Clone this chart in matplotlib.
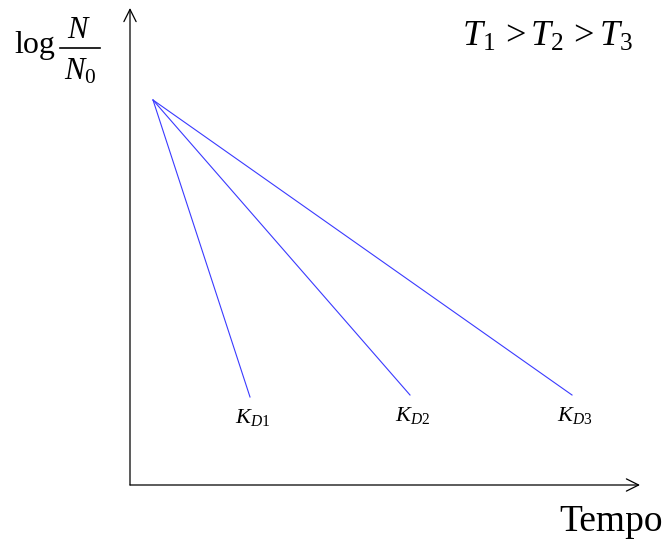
import matplotlib
matplotlib.use('Agg')
import matplotlib.pyplot as plt

plt.rcParams['font.family'] = 'Liberation Serif'
plt.rcParams['mathtext.fontset'] = 'custom'
plt.rcParams['mathtext.rm'] = 'Liberation Serif'
plt.rcParams['mathtext.it'] = 'Liberation Serif:italic'

# common start point (tempo, log N/N0) and end points of each line
t_start = 23
logn_start = 385
t_end = [120, 280, 442]
logn_end = [88, 90, 90]
labels = [r'$K_{D1}$', r'$K_{D2}$', r'$K_{D3}$']

fig = plt.figure(figsize=(6.67, 5.39), dpi=100)

# main axes (corner of arrows at pixel 130,485)
ax = fig.add_axes([130/667, 54/539, 510/667, 477/539])
ax.set_xlim(0, 510)
ax.set_ylim(0, 477)
ax.axis('off')

for te, ye, lab in zip(t_end, logn_end, labels):
    ax.plot([t_start, te], [logn_start, ye], color='#3a3aff', lw=0.8)
    ax.text(te + 3, ye - 20, lab, fontsize=16, ha='center', va='center')

# axis arrows
ax.annotate('', xy=(0, 1), xytext=(0, 0), xycoords='axes fraction',
            arrowprops=dict(arrowstyle='->', lw=0.9, color='k',
                            mutation_scale=22, shrinkA=0, shrinkB=0))
ax.annotate('', xy=(1, 0), xytext=(0, 0), xycoords='axes fraction',
            arrowprops=dict(arrowstyle='->', lw=0.9, color='k',
                            mutation_scale=22, shrinkA=0, shrinkB=0))

# overlay for the text labels
ov = fig.add_axes([0, 0, 1, 1])
ov.set_xlim(0, 667)
ov.set_ylim(539, 0)
ov.axis('off')

ov.text(14, 53, 'log', fontsize=23, ha='left', va='baseline')
ov.text(79, 38, r'$N$', fontsize=22, ha='center', va='baseline')
ov.plot([60, 100], [48, 48], color='k', lw=1.2)
ov.text(80, 79, r'$N_0$', fontsize=22, ha='center', va='baseline')

ov.text(548, 46, r'$T_1\, > T_2\, > T_3$', fontsize=26, ha='center', va='baseline')
ov.text(663, 531, 'Tempo', fontsize=27, ha='right', va='baseline')

fig.savefig('out.png', dpi=100)
